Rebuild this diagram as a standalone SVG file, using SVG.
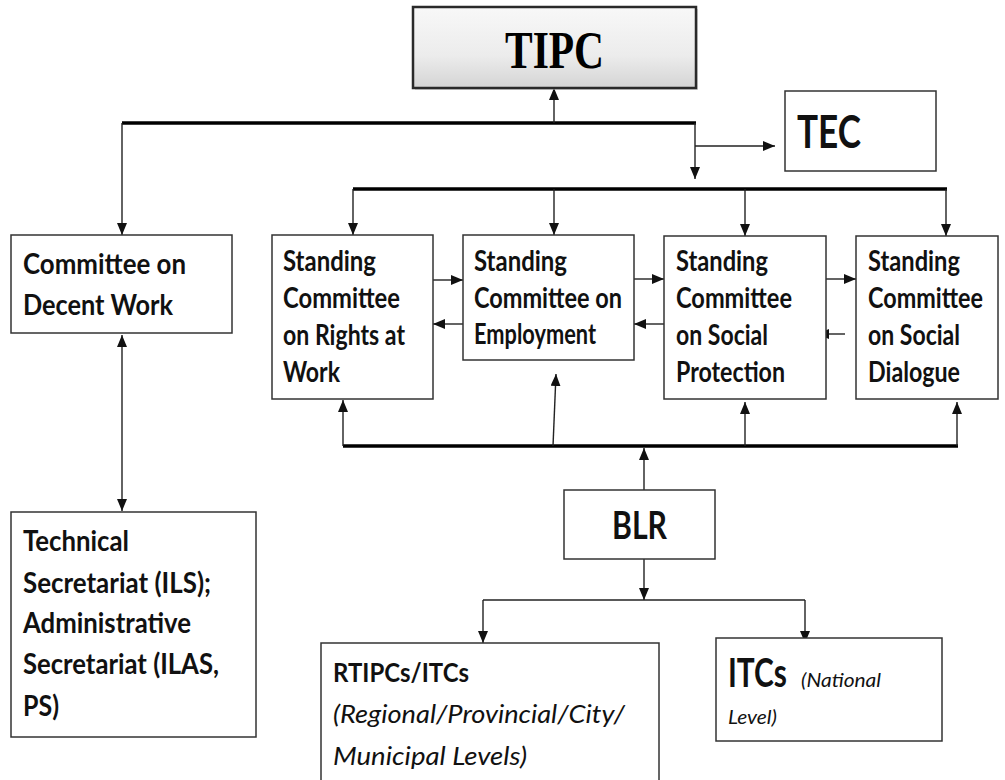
<svg xmlns="http://www.w3.org/2000/svg" width="1005" height="780" viewBox="0 0 1005 780">
  <style>
    .box { fill: #ffffff; stroke: #333333; stroke-width: 1.5; }
    .t { font-family: Lato, "Open Sans", "Liberation Sans", sans-serif; font-weight: bold; fill: #111111; }
    .it { font-family: Lato, "Open Sans", "Liberation Sans", sans-serif; font-style: italic; font-weight: normal; fill: #111111; }
    .bar { stroke: #000000; stroke-width: 3.5; fill: none; }
    .ln { stroke: #222222; stroke-width: 1.4; fill: none; }
    .arr { marker-end: url(#ah); }
    .dbl { marker-start: url(#ah); marker-end: url(#ah); }
  </style>
  <defs>
    <marker id="ah" viewBox="0 0 12 10" refX="12" refY="5" markerWidth="12" markerHeight="10" markerUnits="userSpaceOnUse" orient="auto-start-reverse">
      <path d="M0,0 L12,5 L0,10 z" fill="#111111"/>
    </marker>
    <linearGradient id="tipcGrad" x1="0" y1="0" x2="0" y2="1">
      <stop offset="0" stop-color="#f8f8f8"/>
      <stop offset="0.6" stop-color="#ececec"/>
      <stop offset="1" stop-color="#d4d4d4"/>
    </linearGradient>
  </defs>

  <rect x="0" y="0" width="1005" height="780" fill="#ffffff"/>

  <g id="connectors">
    <line class="bar" x1="122" y1="123" x2="696" y2="123"/>
    <line class="ln arr" x1="554" y1="123" x2="554" y2="88"/>
    <line class="ln arr" x1="122" y1="123" x2="122" y2="235"/>
    <line class="ln arr" x1="695" y1="123" x2="695" y2="179"/>
    <line class="ln arr" x1="695" y1="146" x2="775" y2="146"/>
    <line class="bar" x1="353" y1="189" x2="947" y2="189"/>
    <line class="ln arr" x1="353" y1="189" x2="353" y2="235"/>
    <line class="ln arr" x1="554" y1="189" x2="554" y2="235"/>
    <line class="ln arr" x1="745" y1="189" x2="745" y2="236"/>
    <line class="ln arr" x1="946" y1="189" x2="946" y2="236"/>
    <line class="ln dbl" x1="122" y1="335" x2="122" y2="511"/>
    <line class="ln arr" x1="433" y1="280" x2="463" y2="280"/>
    <line class="ln arr" x1="463" y1="324" x2="433" y2="324"/>
    <line class="ln arr" x1="634" y1="279" x2="664" y2="279"/>
    <line class="ln arr" x1="664" y1="324" x2="634" y2="324"/>
    <line class="ln arr" x1="826" y1="279" x2="856" y2="279"/>
    <line class="ln arr" x1="845" y1="334" x2="817" y2="334"/>
    <line class="bar" x1="343" y1="446" x2="958" y2="446"/>
    <line class="ln arr" x1="343" y1="446" x2="343" y2="400"/>
    <line class="ln arr" x1="553" y1="446" x2="556" y2="374"/>
    <line class="ln arr" x1="745" y1="446" x2="745" y2="402"/>
    <line class="ln arr" x1="957" y1="446" x2="957" y2="402"/>
    <line class="ln arr" x1="644" y1="490" x2="644" y2="448"/>
    <line class="ln arr" x1="644" y1="559" x2="644" y2="600"/>
    <line class="ln" x1="483" y1="600" x2="805" y2="600"/>
    <line class="ln arr" x1="483" y1="600" x2="483" y2="643"/>
    <line class="ln arr" x1="805" y1="600" x2="805" y2="643"/>
  </g>

  <g id="tipc">
    <rect x="415" y="9" width="283" height="81" fill="#bdbdbd" opacity="0.6"/>
    <rect x="413" y="7" width="283" height="81" fill="url(#tipcGrad)" stroke="#2a2a2a" stroke-width="2.5"/>
    <text x="505" y="68" font-family="'Liberation Serif', 'Times New Roman', serif" font-weight="bold" font-size="53" fill="#000000" textLength="99" lengthAdjust="spacingAndGlyphs">TIPC</text>
  </g>

  <g id="tec">
    <rect class="box" x="785" y="91" width="151" height="80"/>
    <text class="t" x="797" y="148" font-size="46" textLength="64" lengthAdjust="spacingAndGlyphs">TEC</text>
  </g>

  <g id="cdw">
    <rect class="box" x="11" y="235" width="221" height="98"/>
    <text class="t" x="23" y="274" font-size="29" textLength="163" lengthAdjust="spacingAndGlyphs">Committee on</text>
    <text class="t" x="23" y="315" font-size="29" textLength="150" lengthAdjust="spacingAndGlyphs">Decent Work</text>
  </g>

  <g id="sc-rights">
    <rect class="box" x="272" y="235" width="161" height="164"/>
    <text class="t" x="283" y="271" font-size="28" textLength="93" lengthAdjust="spacingAndGlyphs">Standing</text>
    <text class="t" x="283" y="308" font-size="28" textLength="117" lengthAdjust="spacingAndGlyphs">Committee</text>
    <text class="t" x="283" y="345" font-size="28" textLength="122" lengthAdjust="spacingAndGlyphs">on Rights at</text>
    <text class="t" x="283" y="382" font-size="28" textLength="57" lengthAdjust="spacingAndGlyphs">Work</text>
  </g>

  <g id="sc-employment">
    <rect class="box" x="463" y="235" width="171" height="125"/>
    <text class="t" x="474" y="271" font-size="28" textLength="93" lengthAdjust="spacingAndGlyphs">Standing</text>
    <text class="t" x="474" y="308" font-size="28" textLength="148" lengthAdjust="spacingAndGlyphs">Committee on</text>
    <text class="t" x="474" y="344" font-size="28" textLength="122" lengthAdjust="spacingAndGlyphs">Employment</text>
  </g>

  <g id="sc-protection">
    <rect class="box" x="664" y="236" width="162" height="163"/>
    <text class="t" x="676" y="271" font-size="28" textLength="92" lengthAdjust="spacingAndGlyphs">Standing</text>
    <text class="t" x="676" y="308" font-size="28" textLength="116" lengthAdjust="spacingAndGlyphs">Committee</text>
    <text class="t" x="676" y="345" font-size="28" textLength="92" lengthAdjust="spacingAndGlyphs">on Social</text>
    <text class="t" x="676" y="382" font-size="28" textLength="109" lengthAdjust="spacingAndGlyphs">Protection</text>
  </g>

  <g id="sc-dialogue">
    <rect class="box" x="856" y="236" width="142" height="163"/>
    <text class="t" x="868" y="271" font-size="28" textLength="92" lengthAdjust="spacingAndGlyphs">Standing</text>
    <text class="t" x="868" y="308" font-size="28" textLength="115" lengthAdjust="spacingAndGlyphs">Committee</text>
    <text class="t" x="868" y="345" font-size="28" textLength="92" lengthAdjust="spacingAndGlyphs">on Social</text>
    <text class="t" x="868" y="382" font-size="28" textLength="92" lengthAdjust="spacingAndGlyphs">Dialogue</text>
  </g>

  <g id="tech-sec">
    <rect class="box" x="11" y="512" width="245" height="225"/>
    <text class="t" x="23" y="551" font-size="29" textLength="106" lengthAdjust="spacingAndGlyphs">Technical</text>
    <text class="t" x="23" y="593" font-size="29" textLength="188" lengthAdjust="spacingAndGlyphs">Secretariat (ILS);</text>
    <text class="t" x="23" y="633" font-size="29" textLength="168" lengthAdjust="spacingAndGlyphs">Administrative</text>
    <text class="t" x="23" y="674" font-size="29" textLength="196" lengthAdjust="spacingAndGlyphs">Secretariat (ILAS,</text>
    <text class="t" x="23" y="716" font-size="29" textLength="36" lengthAdjust="spacingAndGlyphs">PS)</text>
  </g>

  <g id="blr">
    <rect class="box" x="564" y="490" width="151" height="69"/>
    <text class="t" x="612" y="539" font-size="38" textLength="55" lengthAdjust="spacingAndGlyphs">BLR</text>
  </g>

  <g id="rtipcs">
    <rect class="box" x="321" y="643" width="338" height="145"/>
    <text class="t" x="333" y="682" font-size="26" textLength="136" lengthAdjust="spacingAndGlyphs">RTIPCs/ITCs</text>
    <text class="it" x="333" y="723" font-size="25" textLength="292" lengthAdjust="spacingAndGlyphs">(Regional/Provincial/City/</text>
    <text class="it" x="333" y="765" font-size="25" textLength="194" lengthAdjust="spacingAndGlyphs">Municipal Levels)</text>
  </g>

  <g id="itcs">
    <rect class="box" x="716" y="638" width="226" height="103"/>
    <text class="t" x="728" y="687" font-size="40" textLength="59" lengthAdjust="spacingAndGlyphs">ITCs</text>
    <text class="it" x="801" y="687" font-size="20" textLength="80" lengthAdjust="spacingAndGlyphs">(National</text>
    <text class="it" x="728" y="724" font-size="20" textLength="49" lengthAdjust="spacingAndGlyphs">Level)</text>
  </g>
</svg>
